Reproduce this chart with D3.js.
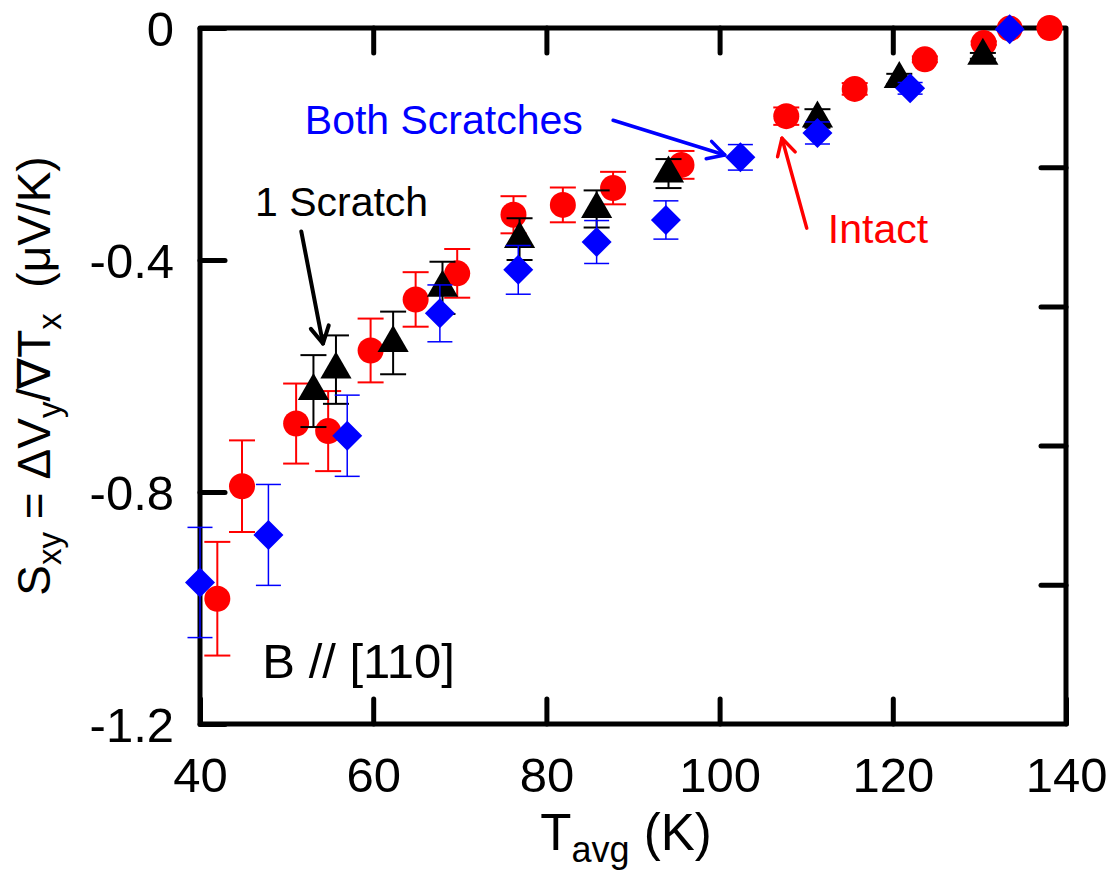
<!DOCTYPE html>
<html>
<head>
<meta charset="utf-8">
<script src="https://cdn.jsdelivr.net/npm/d3@7"></script>
<style>
  html, body { margin: 0; padding: 0; background: #fff; }
  svg { display: block; }
  text { font-family: "Liberation Sans", Arial, sans-serif; }
</style>
</head>
<body>
<svg id="chart" width="1110" height="876"></svg>
<script>
// Intact sample (red circles)
const tIntact = [42.0, 44.85, 51.1, 54.8, 59.7, 64.9, 69.7, 76.2, 81.9, 87.7, 95.6, 107.7, 115.6, 123.7, 130.5, 133.5, 138.1];
const sIntact = [-0.984, -0.790, -0.682, -0.695, -0.556, -0.468, -0.423, -0.322, -0.305, -0.276, -0.236, -0.152, -0.105, -0.054, -0.026, -0.001, 0.0];
const eIntact = [0.098, 0.079, 0.069, 0.069, 0.055, 0.047, 0.042, 0.032, 0.030, 0.028, 0.024, 0.015, 0.010, 0.005, 0.003, 0.001, 0.001];

// One scratch (black triangles)
const tOne = [53.1, 55.7, 62.3, 68.0, 76.9, 85.8, 94.1, 111.3, 120.75, 130.4];
const sOne = [-0.626, -0.589, -0.543, -0.448, -0.364, -0.312, -0.251, -0.156, -0.088, -0.048];
const eOne = [0.062, 0.059, 0.054, 0.045, 0.036, 0.032, 0.025, 0.016, 0.009, 0.005];

// Both scratches (blue diamonds)
const tBoth = [40.0, 47.9, 57.0, 67.7, 76.75, 85.8, 93.8, 102.4, 111.3, 122.0, 133.5];
const sBoth = [-0.956, -0.874, -0.703, -0.492, -0.417, -0.369, -0.331, -0.223, -0.181, -0.104, -0.002];
const eBoth = [0.095, 0.087, 0.070, 0.049, 0.042, 0.037, 0.033, 0.022, 0.019, 0.010, 0.002];

// Axis ticks
const xTicks = [40, 60, 80, 100, 120, 140];
const yTicks = [0, -0.4, -0.8, -1.2];
const yRightTicks = [1, 2, 3, 4];

const svg = d3.select("#chart");
const L = 200, R = 1066, T = 28, B = 724;

const x = d3.scaleLinear().domain([40, 140]).range([L, R]);
const y = d3.scaleLinear().domain([-1.2, 0]).range([B, T]);
const yR = d3.scaleLinear().domain([0, 5]).range([B, T]);

// Frame
svg.append("rect")
  .attr("x", L).attr("y", T).attr("width", R - L).attr("height", B - T)
  .attr("fill", "none").attr("stroke", "#000").attr("stroke-width", 5)
  .attr("stroke-linejoin", "round");

function styleAxis(g, fontSize) {
  g.select(".domain").remove();
  g.selectAll(".tick line").attr("stroke", "#000").attr("stroke-width", 5).attr("stroke-linecap", "round");
  g.selectAll(".tick text").attr("fill", "#000").attr("font-size", fontSize)
    .attr("font-family", "'Liberation Sans', Arial, sans-serif");
}

svg.append("g").attr("transform", `translate(0,${B})`)
  .call(d3.axisBottom(x).tickValues(xTicks).tickSizeInner(-25).tickSizeOuter(0).tickPadding(33).tickFormat(d => String(d)))
  .call(g => styleAxis(g, 49));

svg.append("g").attr("transform", `translate(0,${T})`)
  .call(d3.axisTop(x).tickValues(xTicks.slice(1, -1)).tickSizeInner(-25).tickSizeOuter(0).tickFormat(""))
  .call(g => styleAxis(g, 49));

svg.append("g").attr("transform", `translate(${L},0)`)
  .call(d3.axisLeft(y).tickValues(yTicks).tickSizeInner(-25).tickSizeOuter(0).tickPadding(26).tickFormat(d => String(d)))
  .call(g => styleAxis(g, 49))
  .call(g => g.selectAll(".tick text").attr("dy", "0.36em"));

svg.append("g").attr("transform", `translate(${R},0)`)
  .call(d3.axisRight(yR).tickValues(yRightTicks).tickSizeInner(-25).tickSizeOuter(0).tickFormat(""))
  .call(g => styleAxis(g, 49));

// Series: error bars then markers
function drawSeries(ts, ss, es, color, symbol, rotate, barWidth, capHalf) {
  const data = ts.map((t, i) => ({ t, s: ss[i], e: es[i] }));
  const g = svg.append("g");
  const eb = g.selectAll("g.eb").data(data).join("g").attr("class", "eb")
    .attr("stroke", color).attr("stroke-width", barWidth);
  eb.append("line")
    .attr("x1", d => x(d.t)).attr("x2", d => x(d.t))
    .attr("y1", d => y(d.s - d.e)).attr("y2", d => y(d.s + d.e));
  eb.append("line")
    .attr("x1", d => x(d.t) - capHalf).attr("x2", d => x(d.t) + capHalf)
    .attr("y1", d => y(d.s + d.e)).attr("y2", d => y(d.s + d.e));
  eb.append("line")
    .attr("x1", d => x(d.t) - capHalf).attr("x2", d => x(d.t) + capHalf)
    .attr("y1", d => y(d.s - d.e)).attr("y2", d => y(d.s - d.e));
  g.selectAll("path.mk").data(data).join("path").attr("class", "mk")
    .attr("d", symbol)
    .attr("fill", color)
    .attr("transform", d => `translate(${x(d.t)},${y(d.s)}) rotate(${rotate})`);
}

drawSeries(tIntact, sIntact, eIntact, "#ff0000", d3.symbol(d3.symbolCircle, Math.PI * 13 * 13)(), 0, 2, 13);
drawSeries(tOne, sOne, eOne, "#000000", d3.symbol(d3.symbolTriangle, 421)(), 0, 2, 13);
drawSeries(tBoth, sBoth, eBoth, "#0000ff", d3.symbol(d3.symbolSquare, 450)(), 45, 1.5, 12.5);

// Annotations
function arrow(t0, s0, t1, s1, color, w) {
  const x0 = x(t0), y0 = y(s0), x1 = x(t1), y1 = y(s1);
  const ang = Math.atan2(y1 - y0, x1 - x0);
  const len = 19, spread = 0.5;
  const g = svg.append("g").attr("stroke", color).attr("stroke-width", w)
    .attr("stroke-linecap", "round").attr("stroke-linejoin", "round").attr("fill", "none");
  g.append("line").attr("x1", x0).attr("y1", y0).attr("x2", x1).attr("y2", y1);
  const p = [
    [x1 - len * Math.cos(ang - spread), y1 - len * Math.sin(ang - spread)],
    [x1, y1],
    [x1 - len * Math.cos(ang + spread), y1 - len * Math.sin(ang + spread)]
  ];
  g.append("path").attr("d", d3.line()(p));
}

arrow(51.7, -0.351, 54.2, -0.544, "#000", 4);
arrow(87.7, -0.159, 100.6, -0.219, "#0000ff", 3.5);
arrow(110.06, -0.345, 107.2, -0.190, "#ff0000", 3.5);

svg.append("text").attr("x", x(52.1)).attr("y", y(-0.183)).attr("font-size", 41).attr("fill", "#0000ff").text("Both Scratches");
svg.append("text").attr("x", x(46.35)).attr("y", y(-0.324)).attr("font-size", 41).attr("fill", "#000").text("1 Scratch");
svg.append("text").attr("x", x(112.5)).attr("y", y(-0.371)).attr("font-size", 41).attr("fill", "#ff0000").text("Intact");
svg.append("text").attr("x", x(47.2)).attr("y", y(-1.121)).attr("font-size", 49).attr("fill", "#000").text("B // [110]");

// X axis title
const xt = svg.append("text").attr("x", 626).attr("y", 850)
  .attr("text-anchor", "middle").attr("font-size", 51).attr("fill", "#000");
xt.append("tspan").text("T");
xt.append("tspan").attr("font-size", 36).attr("dy", 12).text("avg");
xt.append("tspan").attr("dy", -12).text(" (K)");

// Y axis title
const yt = svg.append("text").attr("transform", `translate(50,${(T + B) / 2}) rotate(-90)`)
  .attr("text-anchor", "middle").attr("font-size", 46).attr("fill", "#000");
yt.append("tspan").text("S");
yt.append("tspan").attr("font-size", 33).attr("dy", 11).text("xy");
yt.append("tspan").attr("dy", -11).text(" = \u0394V");
yt.append("tspan").attr("font-size", 33).attr("dy", 11).text("y");
yt.append("tspan").attr("dy", -11).text("/\u2207T");
yt.append("tspan").attr("font-size", 33).attr("dy", 11).text("x");
yt.append("tspan").attr("dy", -11).text("\u00a0\u00a0(\u03bcV/K)");
</script>
</body>
</html>
